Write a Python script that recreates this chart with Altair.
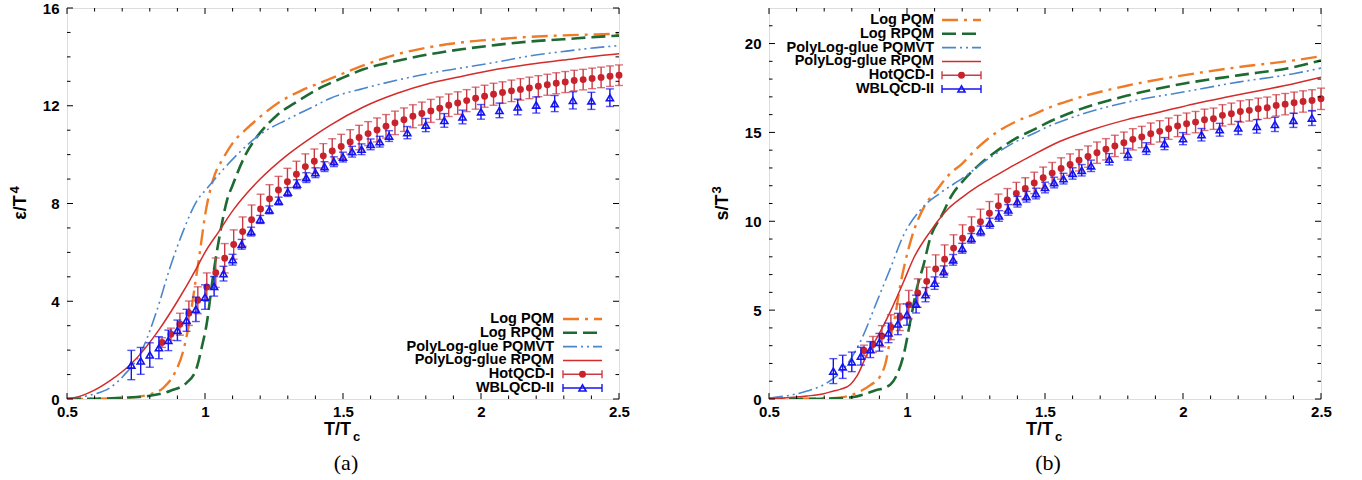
import altair as alt
import pandas as pd

FONT = "Liberation Sans"
SERIF = "Liberation Serif"
W, H = 552, 391

ORANGE = "#f07b27"
GREEN = "#1d6b32"
BLUE_L = "#4a86cc"
RED_L = "#d42b2b"
RED_P = "#c8232c"
RED_E = "#cc3a44"
BLUE_P = "#1414f0"

SERIES = ["Log PQM", "Log RPQM", "PolyLog-glue PQMVT", "PolyLog-glue RPQM", "HotQCD-I", "WBLQCD-II"]

X_MAJOR = [0.5, 1, 1.5, 2, 2.5]
X_MINOR = [0.6, 0.7, 0.8, 0.9, 1.1, 1.2, 1.3, 1.4, 1.6, 1.7, 1.8, 1.9, 2.1, 2.2, 2.3, 2.4]

A_Y_MAJOR = [0, 4, 8, 12, 16]
A_Y_MINOR = [1, 2, 3, 5, 6, 7, 9, 10, 11, 13, 14, 15]
B_Y_MAJOR = [0, 5, 10, 15, 20]
B_Y_MINOR = [1, 2, 3, 4, 6, 7, 8, 9, 11, 12, 13, 14, 16, 17, 18, 19, 21]

# ---------------- panel (a): energy density ----------------
A_LOGPQM_T = [0.5, 0.6, 0.716, 0.8, 0.849, 0.891, 0.921, 0.946, 0.964, 0.982, 1.0, 1.03, 1.066, 1.102, 1.15,
              1.2, 1.27, 1.345, 1.42, 1.5, 1.574, 1.694, 1.815, 1.936, 2.057, 2.177, 2.298, 2.419, 2.5]
A_LOGPQM_V = [0.0, 0.01, 0.05, 0.19, 0.46, 1.08, 1.96, 3.33, 4.69, 6.06, 7.5, 9.0, 9.85, 10.5, 11.05,
              11.55, 12.15, 12.6, 12.95, 13.32, 13.65, 14.1, 14.4, 14.6, 14.72, 14.82, 14.88, 14.92, 14.95]

A_LOGRPQM_T = [0.5, 0.6, 0.7, 0.8, 0.873, 0.934, 0.97, 0.988, 1.006, 1.03, 1.054, 1.079, 1.1, 1.147, 1.2,
               1.26, 1.345, 1.43, 1.5, 1.574, 1.694, 1.815, 1.936, 2.057, 2.177, 2.298, 2.419, 2.5]
A_LOGRPQM_V = [0.0, 0.01, 0.05, 0.13, 0.33, 0.67, 1.28, 2.1, 3.07, 5.1, 6.74, 8.1, 8.75, 10.0, 10.9,
               11.6, 12.25, 12.8, 13.15, 13.49, 13.83, 14.11, 14.32, 14.49, 14.63, 14.72, 14.82, 14.87]

A_PQMVT_T = [0.5, 0.52, 0.595, 0.656, 0.704, 0.77, 0.825, 0.873, 0.921, 0.97, 1.006, 1.061, 1.13, 1.2, 1.3,
             1.39, 1.453, 1.574, 1.694, 1.815, 1.936, 2.057, 2.177, 2.298, 2.419, 2.5]
A_PQMVT_V = [0.03, 0.05, 0.19, 0.46, 0.94, 1.96, 3.6, 5.37, 6.87, 8.1, 8.6, 9.33, 10.15, 10.83, 11.45,
             11.95, 12.3, 12.71, 13.04, 13.33, 13.56, 13.79, 14.04, 14.22, 14.38, 14.46]

A_RPQM_T = [0.5, 0.52, 0.594, 0.656, 0.732, 0.835, 0.9, 0.97, 1.0, 1.05, 1.1, 1.15, 1.2, 1.3, 1.392,
            1.453, 1.574, 1.694, 1.815, 1.936, 2.057, 2.177, 2.298, 2.419, 2.5]
A_RPQM_V = [0.0, 0.03, 0.33, 0.75, 1.43, 2.86, 4.0, 5.37, 6.0, 6.85, 7.7, 8.4, 9.0, 10.0, 10.75,
            11.2, 11.95, 12.5, 12.92, 13.22, 13.49, 13.7, 13.87, 14.04, 14.13]

HOT_T = [0.8442, 0.8766, 0.9091, 0.9416, 0.9740, 1.0065, 1.0390, 1.0714, 1.1039, 1.1364, 1.1688, 1.2013, 1.2338,
         1.2662, 1.2987, 1.3312, 1.3636, 1.3961, 1.4286, 1.4610, 1.4935, 1.5260, 1.5584, 1.5909, 1.6234, 1.6558,
         1.6883, 1.7208, 1.7532, 1.7857, 1.8182, 1.8506, 1.8831, 1.9156, 1.9481, 1.9805, 2.0130, 2.0455, 2.0779,
         2.1104, 2.1429, 2.1753, 2.2078, 2.2403, 2.2727, 2.3052, 2.3377, 2.3701, 2.4026, 2.4351, 2.4675, 2.5000]
WB_T = [0.733, 0.767, 0.800, 0.833, 0.867, 0.900, 0.933, 0.967, 1.000, 1.033, 1.067, 1.100, 1.133, 1.167, 1.200,
        1.233, 1.267, 1.300, 1.333, 1.367, 1.400, 1.433, 1.467, 1.500, 1.533, 1.567, 1.600, 1.633, 1.667, 1.733,
        1.800, 1.867, 1.933, 2.000, 2.067, 2.133, 2.200, 2.267, 2.333, 2.400, 2.467]

A_HOT_V = [2.31, 2.65, 3.06, 3.51, 4.04, 4.58, 5.17, 5.76, 6.32, 6.85, 7.34, 7.78, 8.19, 8.55, 8.89, 9.20, 9.51,
           9.73, 9.95, 10.15, 10.33, 10.52, 10.70, 10.86, 11.01, 11.16, 11.30, 11.43, 11.57, 11.68, 11.79, 11.90,
           12.02, 12.11, 12.21, 12.31, 12.39, 12.47, 12.54, 12.61, 12.67, 12.73, 12.80, 12.86, 12.92, 12.97, 13.03,
           13.07, 13.12, 13.16, 13.21, 13.25]
A_HOT_E = [0.2, 0.25, 0.45, 0.5, 0.55, 0.58, 0.6, 0.6, 0.6, 0.6, 0.6, 0.6, 0.58, 0.56, 0.55, 0.53, 0.52, 0.5, 0.5,
           0.5, 0.5, 0.5, 0.5, 0.49, 0.49, 0.48, 0.48, 0.48, 0.47, 0.47, 0.47, 0.46, 0.46, 0.46, 0.45, 0.45, 0.45,
           0.45, 0.44, 0.44, 0.44, 0.44, 0.43, 0.43, 0.43, 0.43, 0.42, 0.42, 0.42, 0.42, 0.42, 0.42]
A_WB_V = [1.39, 1.56, 1.80, 2.10, 2.40, 2.81, 3.22, 3.67, 4.17, 4.61, 5.13, 5.70, 6.33, 6.85, 7.35, 7.74, 8.10,
          8.47, 8.79, 9.06, 9.26, 9.51, 9.71, 9.90, 10.12, 10.22, 10.42, 10.53, 10.76, 10.90, 11.21, 11.40, 11.54,
          11.75, 11.81, 11.95, 12.03, 12.09, 12.22, 12.20, 12.33]
A_WB_E = [0.6, 0.55, 0.5, 0.45, 0.42, 0.42, 0.45, 0.5, 0.5, 0.4, 0.3, 0.22, 0.2, 0.18, 0.16, 0.16, 0.16, 0.18,
          0.18, 0.2, 0.2, 0.2, 0.2, 0.2, 0.22, 0.22, 0.22, 0.22, 0.22, 0.25, 0.27, 0.28, 0.28, 0.3, 0.3, 0.32, 0.33,
          0.33, 0.35, 0.35, 0.36]

# ---------------- panel (b): entropy density ----------------
B_LOGPQM_T = [0.5, 0.6, 0.7, 0.758, 0.819, 0.867, 0.903, 0.921, 0.94, 0.958, 0.976, 0.994, 1.018, 1.066, 1.103,
              1.151, 1.2, 1.26, 1.32, 1.393, 1.465, 1.5, 1.6, 1.8, 2.0, 2.2, 2.4, 2.5]
B_LOGPQM_V = [0.0, 0.01, 0.04, 0.08, 0.35, 0.78, 1.29, 1.94, 3.44, 4.75, 6.43, 7.74, 9.14, 10.92, 11.66,
              12.6, 13.25, 14.2, 14.95, 15.6, 16.05, 16.3, 16.85, 17.64, 18.21, 18.67, 19.05, 19.29]

B_LOGRPQM_T = [0.5, 0.6, 0.7, 0.8, 0.879, 0.94, 0.964, 0.988, 1.012, 1.036, 1.06, 1.084, 1.127, 1.163, 1.2,
               1.26, 1.32, 1.393, 1.465, 1.5, 1.6, 1.8, 2.0, 2.2, 2.4, 2.5]
B_LOGRPQM_V = [0.0, 0.0, 0.02, 0.1, 0.45, 0.82, 1.38, 2.5, 4.37, 6.24, 7.55, 9.04, 10.36, 11.48, 12.22,
               13.16, 13.9, 14.65, 15.2, 15.48, 16.15, 17.08, 17.74, 18.21, 18.67, 19.05]

B_PQMVT_T = [0.5, 0.517, 0.638, 0.71, 0.783, 0.843, 0.891, 0.94, 0.988, 1.054, 1.127, 1.2, 1.296, 1.393, 1.465,
             1.5, 1.6, 1.8, 2.0, 2.2, 2.4, 2.5]
B_PQMVT_V = [0.05, 0.08, 0.45, 0.91, 1.94, 3.63, 5.49, 7.36, 9.23, 10.73, 11.66, 12.41, 13.53, 14.47, 14.98,
             15.25, 15.85, 16.71, 17.27, 17.83, 18.3, 18.62]

B_RPQM_T = [0.5, 0.55, 0.638, 0.698, 0.734, 0.758, 0.795, 0.819, 0.855, 0.891, 0.94, 0.988, 1.024, 1.084, 1.151,
            1.2, 1.26, 1.32, 1.393, 1.435, 1.555, 1.676, 1.797, 1.918, 2.039, 2.159, 2.28, 2.401, 2.5]
B_RPQM_V = [0.02, 0.06, 0.17, 0.3, 0.45, 0.54, 0.82, 1.3, 2.5, 3.44, 4.93, 6.61, 7.92, 9.42, 10.73,
            11.35, 12.0, 12.55, 13.2, 13.55, 14.5, 15.18, 15.72, 16.15, 16.6, 16.99, 17.36, 17.74, 18.1]

B_HOT_V = [2.73, 3.07, 3.53, 4.04, 4.6, 5.31, 5.96, 6.62, 7.31, 7.87, 8.49, 9.05, 9.55, 9.98, 10.45, 10.88, 11.2,
           11.57, 11.85, 12.16, 12.45, 12.71, 12.97, 13.19, 13.43, 13.64, 13.86, 14.05, 14.24, 14.42, 14.61, 14.74,
           14.93, 15.06, 15.21, 15.36, 15.49, 15.58, 15.71, 15.77, 15.96, 16.05, 16.18, 16.24, 16.33, 16.39, 16.52,
           16.59, 16.67, 16.74, 16.80, 16.89]
B_HOT_E = [0.3, 0.45, 0.6, 0.7, 0.75, 0.8, 0.8, 0.8, 0.8, 0.8, 0.75, 0.75, 0.7, 0.7, 0.66, 0.65, 0.64, 0.62, 0.6,
           0.6, 0.6, 0.6, 0.6, 0.6, 0.6, 0.6, 0.6, 0.6, 0.6, 0.6, 0.6, 0.6, 0.6, 0.6, 0.6, 0.6, 0.6, 0.6, 0.6, 0.6,
           0.6, 0.6, 0.6, 0.6, 0.6, 0.6, 0.6, 0.6, 0.6, 0.6, 0.6, 0.6]
B_WB_V = [1.57, 1.81, 2.09, 2.41, 2.78, 3.19, 3.72, 4.22, 4.75, 5.34, 5.87, 6.52, 7.17, 7.83, 8.48, 9.04, 9.46,
          9.89, 10.30, 10.64, 11.10, 11.38, 11.56, 11.90, 12.18, 12.40, 12.69, 12.87, 13.12, 13.49, 13.77, 14.09,
          14.37, 14.65, 14.87, 15.15, 15.25, 15.34, 15.45, 15.68, 15.81]
B_WB_E = [0.7, 0.65, 0.55, 0.5, 0.45, 0.5, 0.55, 0.6, 0.6, 0.5, 0.4, 0.35, 0.32, 0.3, 0.28, 0.27, 0.27, 0.28, 0.3,
          0.3, 0.3, 0.3, 0.3, 0.3, 0.3, 0.3, 0.32, 0.32, 0.32, 0.32, 0.33, 0.33, 0.34, 0.34, 0.35, 0.36, 0.37, 0.38,
          0.4, 0.4, 0.42]

LINE_STYLES = [
    dict(color=ORANGE, strokeDash=[16, 6, 3, 6], strokeWidth=2.4),
    dict(color=GREEN, strokeDash=[14, 6], strokeWidth=2.6),
    dict(color=BLUE_L, strokeDash=[14, 4, 2, 4, 2, 4], strokeWidth=1.6),
    dict(color=RED_L, strokeWidth=1.5),
]


def make_panel(curves, hot_v, hot_e, wb_v, wb_e, ymax, ymajor, yminor, ytitle, ysup, leg, tag):
    xs = alt.Scale(domain=[0.5, 2.5], nice=False, zero=False)
    ys = alt.Scale(domain=[0, ymax], nice=False, zero=False)
    xaxis = alt.Axis(values=X_MAJOR, format="~g", title=None, ticks=False, domain=False, grid=False,
                     labelFont=FONT, labelFontSize=15, labelFontWeight="bold", labelColor="black",
                     labelPadding=5, labelFlush=False, labelOverlap=False)
    yaxis = alt.Axis(values=ymajor, format="d", title=None, ticks=False, domain=False,
                     grid=False, labelFont=FONT, labelFontSize=15, labelFontWeight="bold", labelColor="black",
                     labelPadding=8, labelFlush=False, labelOverlap=False, minExtent=30, maxExtent=30)

    def X(f):
        return alt.X(f, type="quantitative", scale=xs, axis=xaxis)

    def Y(f):
        return alt.Y(f, type="quantitative", scale=ys, axis=yaxis)

    layers = []
    # model curves
    for (tv, vv), st in zip(curves, LINE_STYLES):
        df = pd.DataFrame({"T": tv, "v": vv})
        layers.append(alt.Chart(df).mark_line(interpolate="monotone", clip=True, **st).encode(x=X("T"), y=Y("v")))

    # lattice data with error bars
    for tv, vv, ev, col, ecol, kind in [(HOT_T, hot_v, hot_e, RED_P, RED_E, "circle"),
                                        (WB_T, wb_v, wb_e, BLUE_P, BLUE_P, "tri")]:
        df = pd.DataFrame({"T": tv, "v": vv, "lo": [a - b for a, b in zip(vv, ev)],
                           "hi": [a + b for a, b in zip(vv, ev)]})
        base = alt.Chart(df)
        layers.append(base.mark_rule(color=ecol, strokeWidth=1.4).encode(x=X("T"), y=Y("lo"), y2=alt.Y2("hi")))
        layers.append(base.mark_tick(orient="horizontal", size=8, thickness=1.4, color=ecol).encode(x=X("T"), y=Y("lo")))
        layers.append(base.mark_tick(orient="horizontal", size=8, thickness=1.4, color=ecol).encode(x=X("T"), y=Y("hi")))
        if kind == "circle":
            layers.append(base.mark_circle(size=48, color=col, opacity=1).encode(x=X("T"), y=Y("v")))
        else:
            layers.append(base.mark_point(shape="triangle-up", filled=False, size=50, strokeWidth=1.6,
                                          color=col, opacity=1).encode(x=X("T"), y=Y("v")))

    # inward ticks on all four sides
    for vals, ln in [(X_MAJOR, 6), (X_MINOR, 3.5)]:
        d = alt.Chart(pd.DataFrame({"v": vals}))
        layers.append(d.mark_rule(color="black", strokeWidth=1).encode(x=X("v"), y=alt.value(H), y2=alt.value(H - ln)))
        layers.append(d.mark_rule(color="black", strokeWidth=1).encode(x=X("v"), y=alt.value(0), y2=alt.value(ln)))
    for vals, ln in [(ymajor, 6), (yminor, 3.5)]:
        d = alt.Chart(pd.DataFrame({"v": vals}))
        layers.append(d.mark_rule(color="black", strokeWidth=1).encode(y=Y("v"), x=alt.value(0), x2=alt.value(ln)))
        layers.append(d.mark_rule(color="black", strokeWidth=1).encode(y=Y("v"), x=alt.value(W), x2=alt.value(W - ln)))

    # legend
    for i, name in enumerate(SERIES):
        yy = leg["y0"] + i * leg["dy"]
        one = alt.Chart(pd.DataFrame({"t": [name]}))
        layers.append(one.mark_text(align="right", baseline="middle", font=FONT, fontSize=14.5,
                                    fontWeight="bold", color="black").encode(
            text="t:N", x=alt.value(leg["tx"]), y=alt.value(yy)))
        if i < 4:
            layers.append(one.mark_rule(**LINE_STYLES[i]).encode(
                x=alt.value(leg["lx1"]), x2=alt.value(leg["lx2"]), y=alt.value(yy)))
        else:
            col = RED_E if i == 4 else BLUE_P
            layers.append(one.mark_rule(color=col, strokeWidth=1.4).encode(
                x=alt.value(leg["lx1"]), x2=alt.value(leg["lx2"]), y=alt.value(yy)))
            for xx in (leg["lx1"], leg["lx2"]):
                layers.append(one.mark_rule(color=col, strokeWidth=1.4).encode(
                    x=alt.value(xx), y=alt.value(yy - 4), y2=alt.value(yy + 4)))
            mid = (leg["lx1"] + leg["lx2"]) / 2
            if i == 4:
                layers.append(one.mark_circle(size=48, color=RED_P, opacity=1).encode(
                    x=alt.value(mid), y=alt.value(yy)))
            else:
                layers.append(one.mark_point(shape="triangle-up", filled=False, size=50, strokeWidth=1.6,
                                             color=BLUE_P, opacity=1).encode(x=alt.value(mid), y=alt.value(yy)))

    # axis titles (with sub/superscripts) and panel tag
    one = alt.Chart(pd.DataFrame({"t": ["T/T"], "s": ["c"], "g": [tag], "yt": [ytitle], "ys": [ysup]}))
    layers.append(one.mark_text(align="right", baseline="middle", font=FONT, fontSize=18, fontWeight="bold",
                                color="black").encode(text="t:N", x=alt.value(W / 2 + 8), y=alt.value(H + 31)))
    layers.append(one.mark_text(align="left", baseline="middle", font=FONT, fontSize=13, fontWeight="bold",
                                color="black").encode(text="s:N", x=alt.value(W / 2 + 10), y=alt.value(H + 38)))
    layers.append(one.mark_text(align="center", baseline="middle", font=SERIF, fontSize=22,
                                color="black").encode(text="g:N", x=alt.value(W / 2 + 3), y=alt.value(H + 64)))
    layers.append(one.mark_text(align="center", baseline="middle", font=FONT, fontSize=18, fontWeight="bold",
                                color="black", angle=270).encode(text="yt:N", x=alt.value(-46), y=alt.value(H / 2 + 4)))
    layers.append(one.mark_text(align="left", baseline="middle", font=FONT, fontSize=13, fontWeight="bold",
                                color="black", angle=270).encode(text="ys:N", x=alt.value(-52), y=alt.value(H / 2 - 10)))

    return alt.layer(*layers).properties(width=W, height=H)


panel_a = make_panel(
    [(A_LOGPQM_T, A_LOGPQM_V), (A_LOGRPQM_T, A_LOGRPQM_V), (A_PQMVT_T, A_PQMVT_V), (A_RPQM_T, A_RPQM_V)],
    A_HOT_V, A_HOT_E, A_WB_V, A_WB_E, 16, A_Y_MAJOR, A_Y_MINOR, "ε/T", "4",
    dict(tx=487, y0=311, dy=13.8, lx1=496, lx2=535), "(a)")

panel_b = make_panel(
    [(B_LOGPQM_T, B_LOGPQM_V), (B_LOGRPQM_T, B_LOGRPQM_V), (B_PQMVT_T, B_PQMVT_V), (B_RPQM_T, B_RPQM_V)],
    B_HOT_V, B_HOT_E, B_WB_V, B_WB_E, 22, B_Y_MAJOR, B_Y_MINOR, "s/T", "3",
    dict(tx=165, y0=12, dy=13.8, lx1=173, lx2=212), "(b)")

chart = alt.hconcat(panel_a, panel_b, spacing=80).properties(
    padding={"left": 8, "top": 0, "right": 0, "bottom": 0}
).configure_view(stroke="black", strokeWidth=1.5).configure(background="white")

chart.save("out.html", embed_options={"renderer": "svg", "actions": False})
